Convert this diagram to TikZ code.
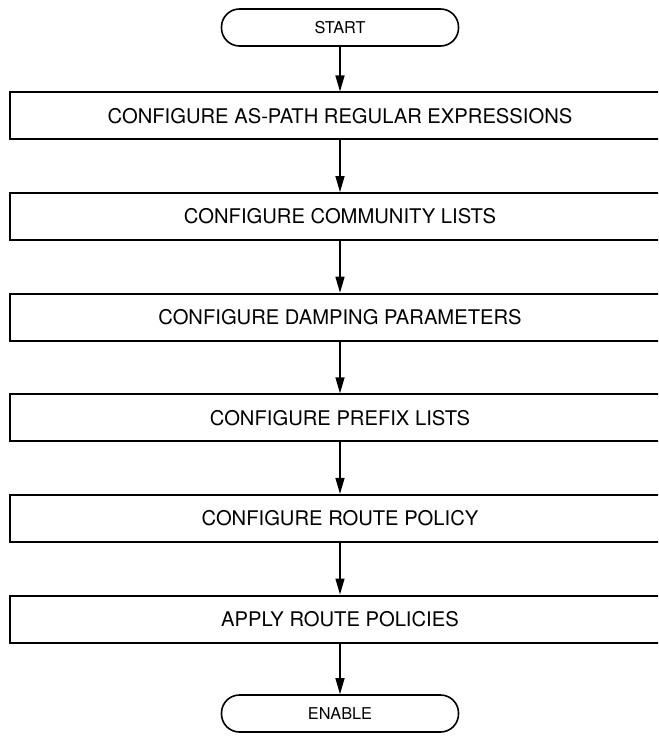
\documentclass[tikz,border=0pt]{standalone}
\usepackage{fontspec}
\setmainfont{TeX Gyre Heros}
\usetikzlibrary{positioning,arrows.meta}

\begin{document}
\begin{tikzpicture}[
    x=1pt, y=1pt,
    every node/.style={
        inner sep=0pt,
        font=\fontsize{20.2}{24}\selectfont,
    },
    terminal/.style={
        draw=black, line width=1.6pt, rounded corners=18pt,
        minimum width=237pt, minimum height=37pt,
        font=\fontsize{16.3}{19}\selectfont
    },
    stepbox/.style={
        draw=black, line width=2pt,
        minimum width=660pt, minimum height=47pt
    },
    flow/.style={
        draw=black, line width=1.4pt,
        -{Triangle[length=16pt,width=9pt]}
    },
    node distance=51.6pt
  ]
  \clip (0,0) rectangle (658,-738);
  \node [terminal] (start) at (340,-27.5) {START};
  \node [stepbox, below=44.7pt of start] (aspath) {CONFIGURE AS-PATH REGULAR EXPRESSIONS};
  \node [stepbox, below=of aspath] (community) {CONFIGURE COMMUNITY LISTS};
  \node [stepbox, below=of community] (damping) {CONFIGURE DAMPING PARAMETERS};
  \node [stepbox, below=of damping] (prefix) {CONFIGURE PREFIX LISTS};
  \node [stepbox, below=of prefix] (policy) {CONFIGURE ROUTE POLICY};
  \node [stepbox, below=of policy] (apply) {APPLY ROUTE POLICIES};
  \node [terminal, below=50.7pt of apply] (enable) {ENABLE};

  \draw [flow] (start) -- (aspath);
  \draw [flow] (aspath) -- (community);
  \draw [flow] (community) -- (damping);
  \draw [flow] (damping) -- (prefix);
  \draw [flow] (prefix) -- (policy);
  \draw [flow] (policy) -- (apply);
  \draw [flow] (apply) -- (enable);
\end{tikzpicture}
\end{document}
